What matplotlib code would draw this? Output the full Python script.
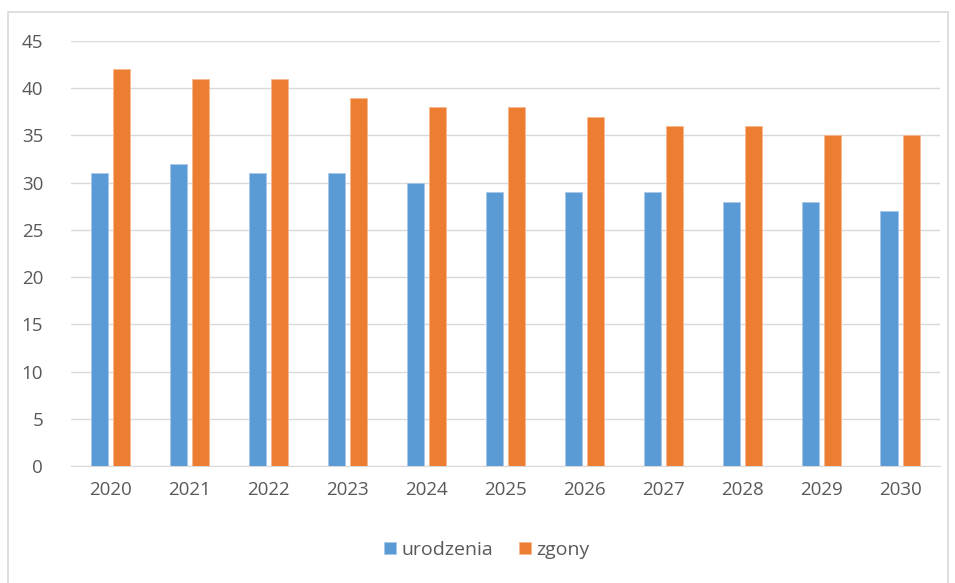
import matplotlib.pyplot as plt
import numpy as np
from matplotlib.patches import Rectangle

lata = ['2020', '2021', '2022', '2023', '2024', '2025', '2026', '2027', '2028', '2029', '2030']
urodzenia = [31, 32, 31, 31, 30, 29, 29, 29, 28, 28, 27]
zgony = [42, 41, 41, 39, 38, 38, 37, 36, 36, 35, 35]

plt.rcParams['font.family'] = ['Open Sans', 'DejaVu Sans']

fig = plt.figure(figsize=(9.55, 5.83), dpi=100)
ax = fig.add_axes([0.0743, 0.2007, 0.9097, 0.729])

x = np.arange(len(lata))
w = 0.22
ax.bar(x - 0.14, urodzenia, w, color='#5b9bd5', edgecolor='#a9c8ea', linewidth=0.6, label='urodzenia', zorder=3)
ax.bar(x + 0.14, zgony, w, color='#ed7d31', edgecolor='#f5b990', linewidth=0.6, label='zgony', zorder=3)

ax.set_xlim(-0.5, len(lata) - 0.5)
ax.set_ylim(0, 45)
ax.set_yticks(range(0, 46, 5))
ax.set_xticks(x)
ax.set_xticklabels(lata)
ax.grid(axis='y', color='#d9d9d9', linewidth=1, zorder=0)
for s in ['top', 'right', 'left']:
    ax.spines[s].set_visible(False)
ax.spines['bottom'].set_color('#d9d9d9')
ax.tick_params(axis='both', length=0, labelsize=13.5, colors='#595959')
ax.tick_params(axis='x', pad=11)
ax.tick_params(axis='y', pad=20)

fig.legend(loc='center', bbox_to_anchor=(0.51, 0.057), ncol=2, frameon=False,
           fontsize=14, labelcolor='#595959', handlelength=0.6, handleheight=0.6,
           handletextpad=0.3, columnspacing=1.3)

fig.patches.append(Rectangle((8 / 955, -0.01), 940 / 955, (583 - 12) / 583 + 0.01,
                             transform=fig.transFigure, fill=False,
                             edgecolor='#d9d9d9', linewidth=1.2))

fig.savefig('out.png', dpi=100)
